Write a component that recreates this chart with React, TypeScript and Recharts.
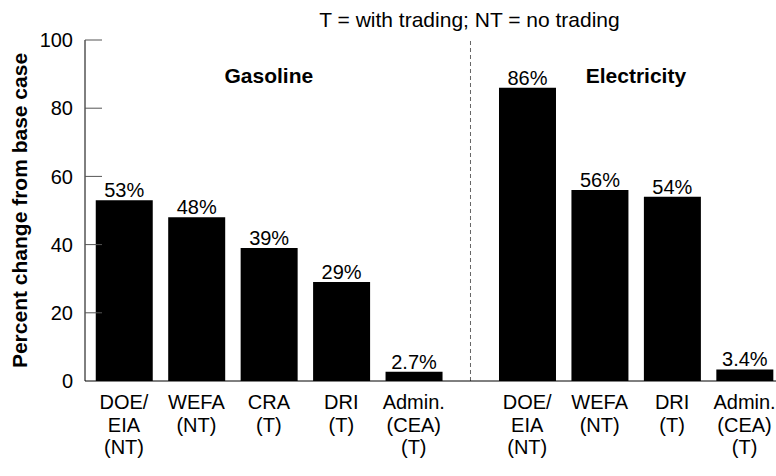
import React from 'react';
import { BarChart, Bar, XAxis, YAxis, LabelList, ReferenceLine, ReferenceDot } from 'recharts';

const FONT = '"Liberation Sans", Arial, Helvetica, sans-serif';

const categories = ['DOE/\nEIA\n(NT)', 'WEFA\n(NT)', 'CRA\n(T)', 'DRI\n(T)', 'Admin.\n(CEA)\n(T)', 'DOE/\nEIA\n(NT)', 'WEFA\n(NT)', 'DRI\n(T)', 'Admin.\n(CEA)\n(T)'];
const values = [53, 48, 39, 29, 2.7, 86, 56, 54, 3.4];
const valueLabels = ['53%', '48%', '39%', '29%', '2.7%', '86%', '56%', '54%', '3.4%'];
const groupNames = ['Gasoline', 'Electricity'];
const gasolineCount = 5;
const yTicks = [0, 20, 40, 60, 80, 100];

// layout: bars sit on a numeric axis, one unit apart, with an extra gap between the two groups
const GROUP_GAP = 0.566;
const positions = categories.map((_, i) => i + (i >= gasolineCount ? GROUP_GAP : 0));
const data = positions.map((p, i) => ({ pos: p, value: values[i], text: valueLabels[i] }));
const labelAt = new Map(positions.map((p, i) => [p, categories[i]]));
const dividerX = (positions[gasolineCount - 1] + positions[gasolineCount]) / 2;
const gasolineX = positions[2];
const electricityX = (positions[gasolineCount] + positions[positions.length - 1]) / 2;

const XTick = (props: any) => {
  const { x, y, payload } = props;
  const lines = (labelAt.get(payload.value) || '').split('\n');
  return (
    <text x={x} y={y + 26} textAnchor="middle" fontSize={20} fill="#000" fontFamily={FONT}>
      {lines.map((l, i) => (
        <tspan key={i} x={x} dy={i === 0 ? 0 : 22.5}>{l}</tspan>
      ))}
    </text>
  );
};

const YTick = (props: any) => {
  const { x, y, payload } = props;
  return (
    <g>
      {payload.value !== 0 && <line x1={x} y1={y} x2={x + 17} y2={y} stroke="#555" strokeWidth={1} />}
      <text x={x - 12} y={y} dy="0.36em" textAnchor="end" fontSize={20} fill="#000" fontFamily={FONT}>
        {payload.value}
      </text>
    </g>
  );
};

const sectionLabel = (text: string) => (props: any) => {
  const vb = props.viewBox || {};
  const cx = (vb.x ?? 0) + (vb.width ?? 0) / 2;
  const cy = (vb.y ?? 0) + (vb.height ?? 0) / 2;
  return (
    <text x={cx} y={cy} dy="0.36em" textAnchor="middle" fontSize={21} fontWeight="bold" fill="#000" fontFamily={FONT}>
      {text}
    </text>
  );
};

const yAxisLabel = (props: any) => {
  const vb = props.viewBox || { y: 40, height: 341 };
  const cy = vb.y + vb.height / 2;
  return (
    <text x={19} y={cy} transform={`rotate(-90, 19, ${cy})`} dy="0.36em" textAnchor="middle" fontSize={21} fontWeight="bold" fill="#000" fontFamily={FONT}>
      Percent change from base case
    </text>
  );
};

export default function App() {
  return (
    <div style={{ position: 'absolute', left: 0, top: 0, width: 776, height: 476, background: '#fff', fontFamily: FONT }}>
      <div style={{ position: 'absolute', left: 0, width: 776, top: 8, textAlign: 'center', paddingLeft: 163, boxSizing: 'border-box', fontSize: 21, color: '#000' }}>
        T = with trading; NT = no trading
      </div>
      <BarChart width={776} height={476} data={data} margin={{ top: 40, right: 0, left: 0, bottom: 0 }} barSize={57}>
        <XAxis dataKey="pos" type="number" domain={[-0.538, 9.0]} ticks={positions} interval={0} allowDataOverflow
          height={95} axisLine={{ stroke: '#000' }} tickLine={false} tickSize={0} tick={<XTick />} />
        <YAxis width={85} domain={[0, 100]} ticks={yTicks} axisLine={{ stroke: '#000' }} tickLine={false} tickSize={0} tickMargin={0} tick={<YTick />} label={{ content: yAxisLabel }} />
        <ReferenceLine x={dividerX} stroke="#666" strokeDasharray="4 3" />
        <ReferenceDot x={gasolineX} y={89.7} r={0} fill="none" stroke="none" label={{ content: sectionLabel(groupNames[0]) }} />
        <ReferenceDot x={electricityX} y={89.7} r={0} fill="none" stroke="none" label={{ content: sectionLabel(groupNames[1]) }} />
        <Bar dataKey="value" fill="#000" isAnimationActive={false}>
          <LabelList dataKey="text" position="top" offset={3} fontSize={20} fill="#000" fontFamily={FONT} />
        </Bar>
      </BarChart>
    </div>
  );
}
